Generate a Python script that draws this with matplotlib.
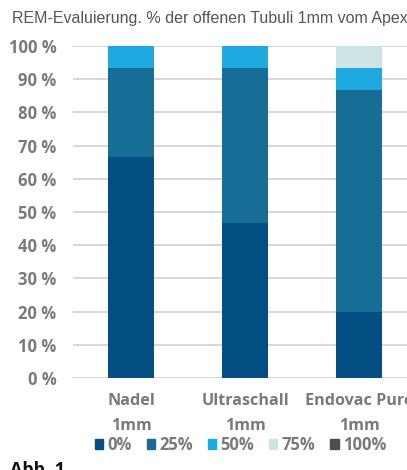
import matplotlib
matplotlib.use("Agg")
import matplotlib.pyplot as plt
import numpy as np
from matplotlib.patches import Patch

categories = ["Nadel\n1mm", "Ultraschall\n1mm", "Endovac Pure\n1mm"]
series_names = ["0%", "25%", "50%", "75%", "100%"]
values = {
    "0%": [66.7, 46.7, 20.0],
    "25%": [26.7, 46.7, 66.7],
    "50%": [6.7, 6.7, 6.7],
    "75%": [0.0, 0.0, 6.7],
    "100%": [0.0, 0.0, 0.0],
}
colors = ["#034f84", "#166e96", "#1ea9e0", "#cde4e6", "#4d4f51"]
yticks = np.arange(0, 101, 10)

fig = plt.figure(figsize=(4.07, 4.70), dpi=100)
ax = fig.add_axes([73 / 407, 1 - 378 / 470, 1 - 73 / 407, (378 - 46) / 470])

x = np.arange(len(categories))
bottom = np.zeros(len(categories))
for name, col in zip(series_names, colors):
    v = np.array(values[name])
    ax.bar(x, v, 0.40, bottom=bottom, color=col, zorder=3)
    bottom += v

ax.set_xlim(-0.509, 2.42)
ax.set_ylim(0, 100)
ax.set_yticks(yticks)
ax.set_yticklabels([f"{t} %" for t in yticks], fontsize=12, fontweight="bold",
                   color="#7a7a7a", family="Open Sans")
ax.set_xticks(x)
ax.set_xticklabels(categories, fontsize=11.6, fontweight="bold", color="#7a7a7a",
                   family="Open Sans", linespacing=1.75)
ax.tick_params(axis="both", length=0)
ax.tick_params(axis="y", pad=12)
ax.tick_params(axis="x", pad=11)
ax.grid(axis="y", color="#d0d0d0", linewidth=1.2, zorder=0)
for s in ax.spines.values():
    s.set_visible(False)

fig.text(12 / 407, 1 - 18 / 470, "REM-Evaluierung. % der offenen Tubuli 1mm vom Apex",
         fontsize=11.5, color="#555555", family="Liberation Sans", va="center")

handles = [Patch(color=c) for c in colors]
fig.legend(handles, series_names, loc="center left", bbox_to_anchor=(88 / 407, 1 - 445 / 470),
           ncol=5, frameon=False, handlelength=0.5, handleheight=0.55, handletextpad=0.25,
           columnspacing=0.9, borderaxespad=0,
           prop={"family": "Open Sans", "weight": "bold", "size": 12})
for t in fig.legends[0].get_texts():
    t.set_color("#7a7a7a")

fig.text(10 / 407, 1 - 461 / 470, "Abb. 1", fontsize=13, fontweight="bold",
         color="#111111", family="Open Sans", va="top")

fig.savefig("out.png", dpi=100)
